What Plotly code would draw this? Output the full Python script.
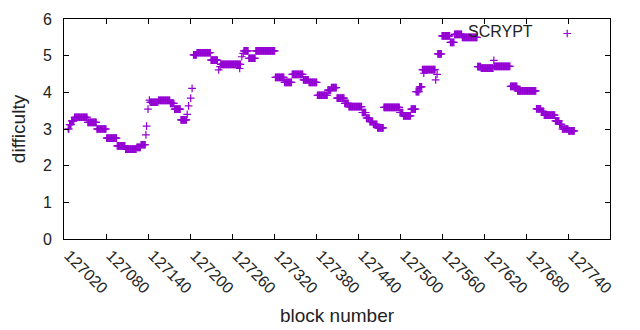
import plotly.graph_objects as go

seg_first = [127026, 127028, 127031, 127035, 127054, 127067, 127081, 127096, 127108, 127124,
             127130, 127143, 127155, 127172, 127178, 127187, 127205, 127210, 127230, 127244,
             127277, 127284, 127294, 127322, 127335, 127346, 127362, 127370, 127382, 127397,
             127402, 127410, 127421, 127427, 127446, 127452, 127457, 127462, 127468, 127477,
             127500, 127505, 127516, 127523, 127528, 127532, 127554, 127560, 127572, 127578,
             127589, 127611, 127616, 127635, 127658, 127668, 127695, 127702, 127706, 127722,
             127728, 127732, 127741]
seg_last = [127027, 127030, 127034, 127053, 127066, 127080, 127095, 127107, 127123, 127129,
            127136, 127154, 127171, 127177, 127186, 127195, 127209, 127229, 127239, 127272,
            127283, 127293, 127321, 127334, 127345, 127361, 127369, 127381, 127396, 127401,
            127409, 127420, 127426, 127445, 127451, 127456, 127461, 127467, 127476, 127499,
            127504, 127515, 127522, 127527, 127531, 127550, 127559, 127571, 127577, 127588,
            127610, 127615, 127633, 127657, 127667, 127694, 127701, 127705, 127721, 127727,
            127731, 127740, 127749]
seg_difficulty = [3.00, 3.12, 3.22, 3.32, 3.18, 3.00, 2.75, 2.54, 2.45, 2.50,
                  2.57, 3.73, 3.78, 3.70, 3.54, 3.25, 5.02, 5.08, 4.88, 4.76,
                  5.13, 4.93, 5.13, 4.41, 4.27, 4.49, 4.34, 4.27, 3.92, 4.06,
                  4.13, 3.84, 3.70, 3.61, 3.45, 3.30, 3.20, 3.13, 3.03, 3.59,
                  3.45, 3.36, 3.54, 4.02, 4.15, 4.62, 5.05, 5.54, 5.36, 5.58,
                  5.50, 4.70, 4.66, 4.71, 4.16, 4.04, 3.55, 3.48, 3.38, 3.22,
                  3.13, 3.00, 2.95]

# Isolated blocks between runs
extra_blocks = [127137, 127138, 127140, 127142, 127196, 127198, 127201, 127203,
                127241, 127243, 127271, 127274, 127276, 127534, 127551, 127553, 127634]
extra_difficulty = [2.84, 3.08, 3.54, 3.79, 3.40, 3.63, 3.84, 4.11,
                    4.61, 4.70, 4.65, 4.97, 5.06, 4.52, 4.34, 4.49, 4.87]

x_ticks = list(range(127020, 127801, 60))
y_ticks = [0, 1, 2, 3, 4, 5, 6]

blocks, diffs = [], []
for a, b, d in zip(seg_first, seg_last, seg_difficulty):
    for blk in range(a, b + 1):
        blocks.append(blk)
        diffs.append(d)
blocks += extra_blocks
diffs += extra_difficulty

color = "#9400d3"
font = "Liberation Sans"

fig = go.Figure()
fig.add_trace(go.Scatter(
    x=blocks, y=diffs, mode="markers", name=" ",
    marker=dict(symbol="cross-thin", size=5.5, color=color,
                line=dict(width=1.2, color=color)),
))

axis_common = dict(showline=True, linecolor="black", linewidth=1, mirror="ticks",
                   ticks="inside", ticklen=5, tickcolor="black", showgrid=False,
                   zeroline=False, automargin=False,
                   tickfont=dict(family=font, size=16, color="#222"))

# page body adds an 8px offset, so the figure is 8px smaller with margins compensated
fig.update_layout(
    width=632, height=322,
    margin=dict(l=56, r=30, t=11, b=91),
    paper_bgcolor="white", plot_bgcolor="white",
    font=dict(family=font, size=16, color="#222"),
    xaxis=dict(range=[127020, 127800], tickvals=x_ticks,
               ticktext=[str(v) for v in x_ticks], tickangle=45, ticklabelshift=5,
               title=dict(text="block number", standoff=12), **axis_common),
    yaxis=dict(range=[0, 6], tickvals=y_ticks, ticklabelstandoff=8,
               title=dict(text="difficulty", standoff=14), **axis_common),
    showlegend=True,
    legend=dict(x=0.885, y=1.0, xanchor="left", yanchor="top",
                bgcolor="rgba(0,0,0,0)", font=dict(family=font, size=10)),
    annotations=[dict(text="SCRYPT", xref="paper", yref="paper", x=0.862, y=0.945,
                      xanchor="right", yanchor="middle", showarrow=False,
                      font=dict(family=font, size=16, color="#222"))],
)

fig.write_html("out.html")
